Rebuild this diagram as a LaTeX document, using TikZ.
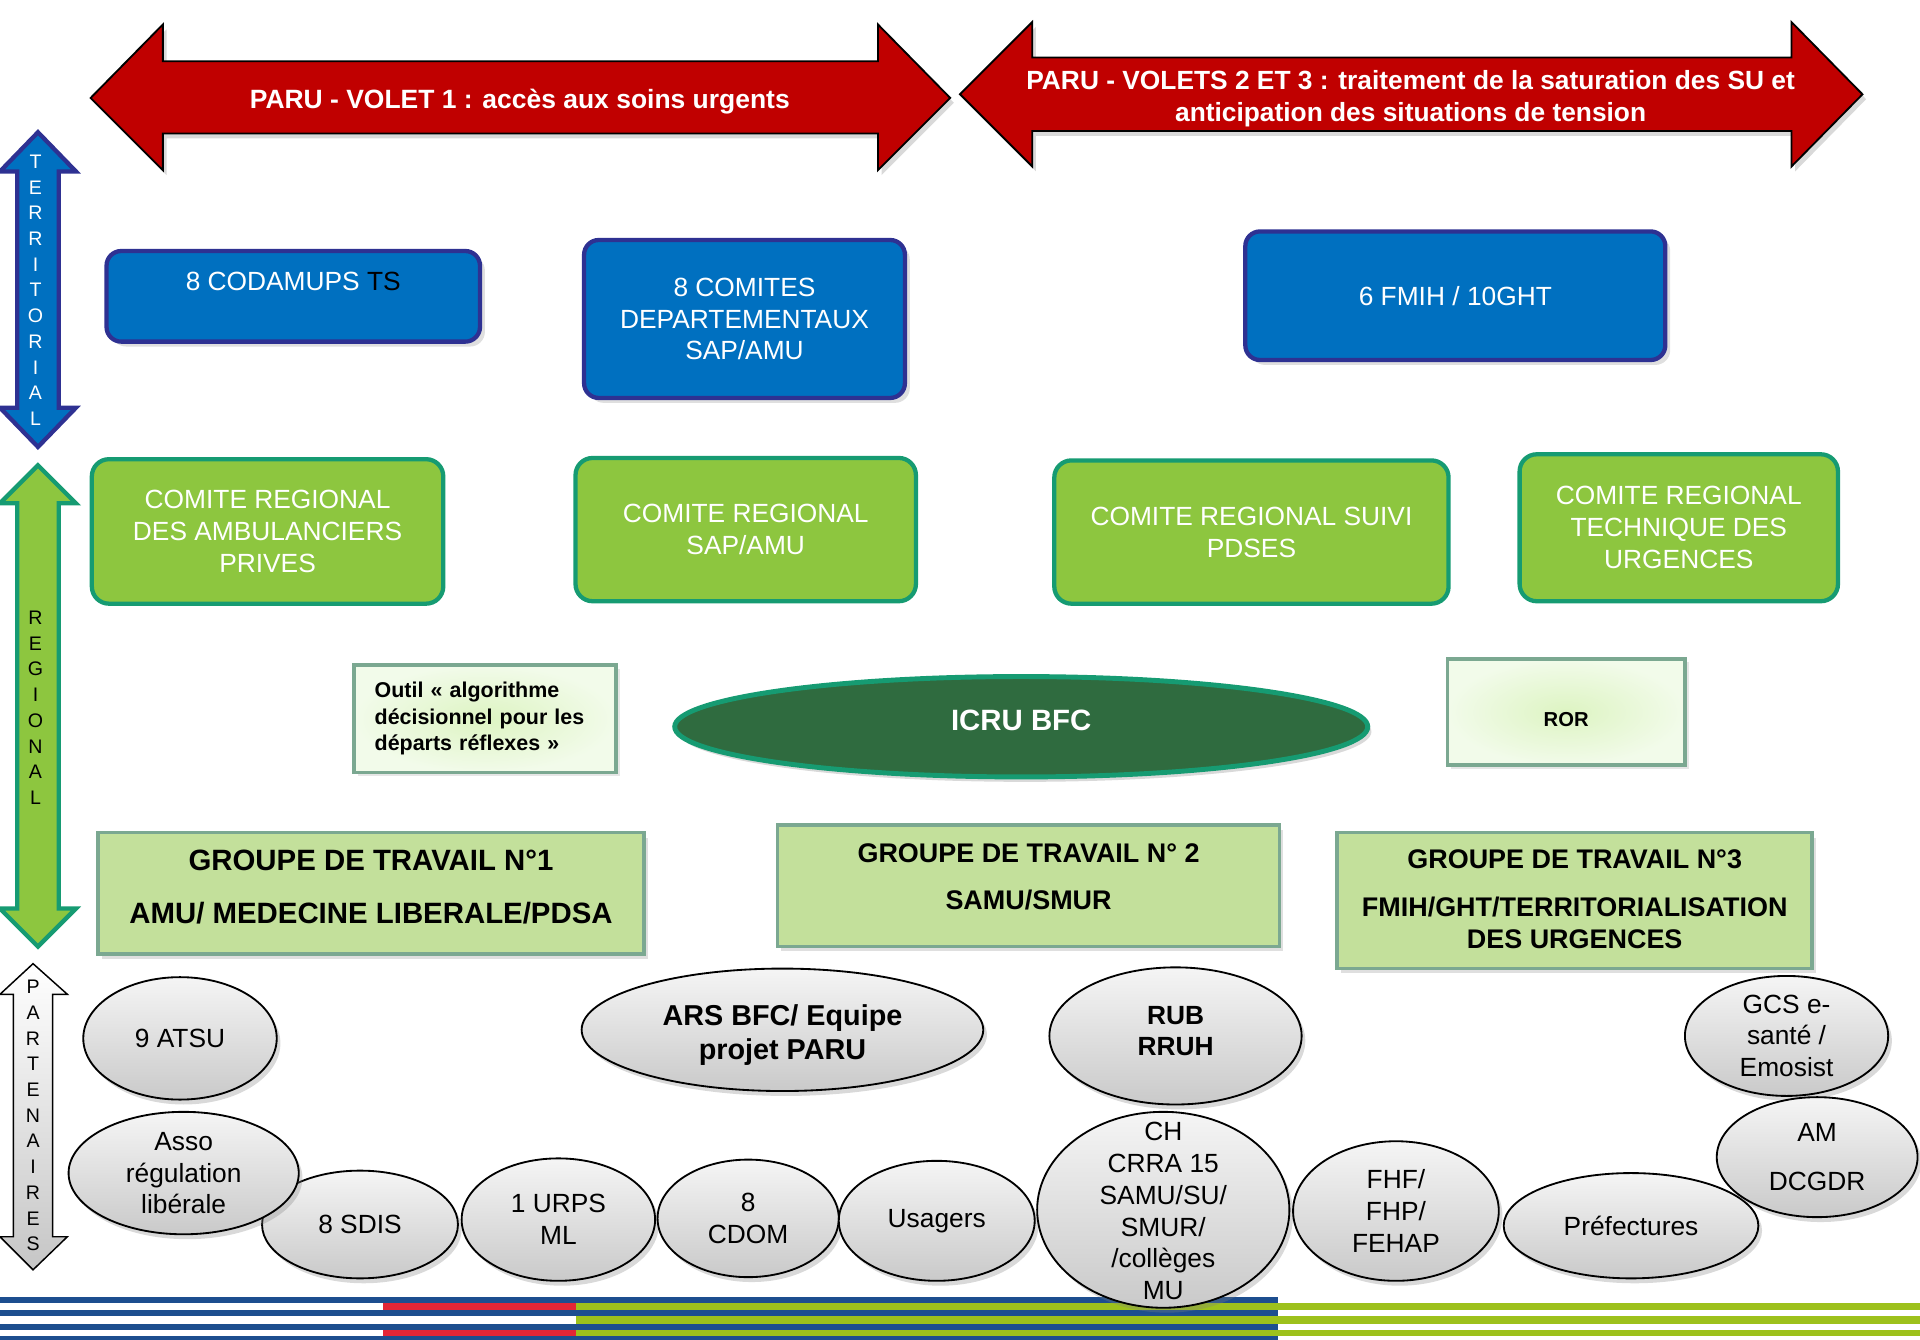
\documentclass[tikz,border=0pt]{standalone}
\usepackage{fontspec}
\setmainfont{Liberation Sans}
\usepackage{tikz}
\usetikzlibrary{shapes.geometric}
\usetikzlibrary{shadows}
\usetikzlibrary{positioning}

\definecolor{paruRed}{HTML}{C00000}
\definecolor{terrBlue}{HTML}{0070C0}
\definecolor{terrBorder}{HTML}{2E3192}
\definecolor{regGreen}{HTML}{8DC63F}
\definecolor{regBorder}{HTML}{169B72}
\definecolor{icruGreen}{HTML}{2F6B3F}
\definecolor{gtGreen}{HTML}{C3E09B}
\definecolor{gtBorder}{HTML}{7BA891}
\definecolor{toolInner}{HTML}{DDF4C2}
\definecolor{toolOuter}{HTML}{F2FBEA}
\definecolor{stripeBlue}{HTML}{1D4E8F}
\definecolor{stripeGreen}{HTML}{9DC11C}
\definecolor{stripeRed}{HTML}{E32636}

\begin{document}
\begin{tikzpicture}[x=1pt, y=-1pt]
				\tikzstyle{bluebox}=[draw=terrBorder, line width=3.5, fill=terrBlue, rounded corners=12, text=white, align=center, font=\fontsize{21.5}{26}\selectfont, drop shadow={opacity=0.25, shadow xshift=4pt, shadow yshift=-4pt}]
				\tikzstyle{greenbox}=[draw=regBorder, line width=3.5, fill=regGreen, rounded corners=14, text=white, align=center, font=\fontsize{21.5}{26}\selectfont]
				\tikzstyle{toolbox}=[draw=gtBorder, line width=3, inner color=toolInner, outer color=toolOuter, text=black, drop shadow={opacity=0.2, shadow xshift=3pt, shadow yshift=-3pt}]
				\tikzstyle{gtbox}=[draw=gtBorder, line width=3, fill=gtGreen, drop shadow={opacity=0.25, shadow xshift=3pt, shadow yshift=-4pt}]
				\tikzstyle{gttext}=[align=center, text=black, font=\bfseries\fontsize{22}{26}\selectfont]
				\tikzstyle{partner}=[ellipse, draw=black, line width=1.5, top color=gray!8, bottom color=gray!42, align=center, inner sep=0, text=black, font=\fontsize{21.5}{26}\selectfont, drop shadow={opacity=0.3, shadow xshift=3pt, shadow yshift=-4pt}]
				\tikzstyle{partnertext}=[align=center, inner sep=0, text=black, font=\fontsize{21.5}{26}\selectfont]
				\tikzstyle{bigarrow}=[draw=black, line width=1.5, fill=paruRed, drop shadow={opacity=0.3, shadow xshift=3pt, shadow yshift=-4pt}]
				\tikzstyle{sidetext}=[align=center, inner sep=0, font=\fontsize{16}{21}\selectfont]
				
				\useasboundingbox (0,0) rectangle (1568,1094);
				
				% PARU volets
				\draw [bigarrow] (74,80) -- (133,20) -- (133,50) -- (717,50) -- (717,20) -- (776,80) -- (717,139) -- (717,109) -- (133,109) -- (133,139) -- cycle;
				\draw [bigarrow] (784,77) -- (843,18) -- (843,47) -- (1463,47) -- (1463,18) -- (1521,77) -- (1463,136) -- (1463,107) -- (843,107) -- (843,136) -- cycle;
				\node (volet1) at (424.5,83) [text=white, font=\bfseries\fontsize{21.6}{26}\selectfont] {PARU - VOLET 1 : accès aux soins urgents};
				\node (volet2) at (1152,80.5) [text=white, align=center, font=\bfseries\fontsize{21.5}{26}\selectfont] {PARU - VOLETS 2 ET 3 : traitement de la saturation des SU et\\anticipation des situations de tension};
				
				% niveaux
				\draw [draw=terrBorder, line width=3.5, fill=terrBlue] (31,108) -- (62,140) -- (48,140) -- (48,333) -- (62,333) -- (31,365) -- (0,333) -- (14,333) -- (14,140) -- (0,140) -- cycle;
				\draw [draw=regBorder, line width=3.5, fill=regGreen] (31,380) -- (62,411) -- (48,411) -- (48,742) -- (62,742) -- (31,773) -- (0,742) -- (14,742) -- (14,411) -- (0,411) -- cycle;
				\draw [draw=black, line width=1.2, top color=white, bottom color=gray!45] (27,787) -- (55,812) -- (43,812) -- (43,1010) -- (55,1010) -- (27,1037) -- (0,1010) -- (11,1010) -- (11,812) -- (0,812) -- cycle;
				\node (territorial) at (29,237) [sidetext, text=white] {T\\E\\R\\R\\I\\T\\O\\R\\I\\A\\L};
				\node (regional) at (29,578) [sidetext] {R\\E\\G\\I\\O\\N\\A\\L};
				\node (partenaires) at (27,911) [sidetext] {P\\A\\R\\T\\E\\N\\A\\I\\R\\E\\S};
				
				% territorial
				\node (codamups) at (239.5,242) [bluebox, minimum width=305, minimum height=74] {};
				\node (codamupsT) at ([yshift=12pt]codamups) [text=white, font=\fontsize{21.5}{26}\selectfont] {8 CODAMUPS \textcolor{black}{TS}};
				\node (comites) at (608,260.5) [bluebox, minimum width=262, minimum height=129] {8 COMITES\\DEPARTEMENTAUX\\SAP/AMU};
				\node (fmih) at (1188.5,241.5) [bluebox, minimum width=343, minimum height=105] {6 FMIH / 10GHT};
				
				% regional
				\node (crAmbu) at (218.5,434) [greenbox, minimum width=287, minimum height=118] {COMITE REGIONAL\\DES AMBULANCIERS\\PRIVES};
				\node (crSap) at (609,432.5) [greenbox, minimum width=278, minimum height=117] {COMITE REGIONAL\\SAP/AMU};
				\node (crPdses) at (1022,434.5) [greenbox, minimum width=322, minimum height=117] {COMITE REGIONAL SUIVI\\PDSES};
				\node (crUrg) at (1371,431) [greenbox, minimum width=260, minimum height=120] {COMITE REGIONAL\\TECHNIQUE DES\\URGENCES};
				
				\node (outil) at (396,587) [toolbox, text width=180, inner xsep=17, minimum height=88, align=left, font=\bfseries\fontsize{17.5}{21.5}\selectfont] {Outil « algorithme\\décisionnel pour les\\départs réflexes »};
				\node (icru) at (834,593.5) [ellipse, draw=regBorder, line width=4, fill=icruGreen, minimum width=566, minimum height=82, drop shadow={opacity=0.3, shadow xshift=3pt, shadow yshift=-4pt}] {};
				\node (icruT) at ([yshift=5pt]icru) [text=white, font=\bfseries\fontsize{24}{28}\selectfont] {ICRU BFC};
				\node (ror) at (1279,581.5) [toolbox, minimum width=194, minimum height=87] {};
				\node (rorT) at ([yshift=-6.5pt]ror) [font=\bfseries\fontsize{16.5}{20}\selectfont] {ROR};
				
				\node (gt1) at (303,729.5) [gtbox, minimum width=446, minimum height=99] {};
				\node (gt1T) at ([yshift=5pt]gt1) [gttext, font=\bfseries\fontsize{24}{28}\selectfont] {GROUPE DE TRAVAIL N°1\\[15pt]AMU/ MEDECINE LIBERALE/PDSA};
				\node (gt2) at (840,723.5) [gtbox, minimum width=410, minimum height=99] {};
				\node (gt2T) at ([yshift=7.5pt]gt2) [gttext] {GROUPE DE TRAVAIL N° 2\\[13pt]SAMU/SMUR};
				\node (gt3) at (1286,735.5) [gtbox, minimum width=388, minimum height=111] {};
				\node (gt3T) at ([yshift=1pt]gt3) [gttext] {GROUPE DE TRAVAIL N°3\\[13pt]FMIH/GHT/TERRITORIALISATION\\DES URGENCES};
				
				% bandeau
				\fill [stripeBlue] (0,1059) rectangle (1044,1094);
				\foreach \ya/\yb in {1064/1070, 1075/1081, 1086/1091} {
					\fill [white] (0,\ya) rectangle (470,\yb);
					\fill [stripeGreen] (470,\ya) rectangle (1568,\yb);
				}
				\fill [stripeRed] (313,1064) rectangle (470,1070);
				\fill [stripeRed] (313,1086) rectangle (470,1091);
				
				% partenaires
				\node (atsu) at (147,848) [partner, minimum width=158, minimum height=100] {9 ATSU};
				\node (ars) at (639,841) [partner, minimum width=328, minimum height=100] {};
				\node (arsT) at ([yshift=-4pt]ars) [partnertext, font=\bfseries\fontsize{23.5}{28}\selectfont] {ARS BFC/ Equipe\\projet PARU};
				\node (rub) at (960,846) [partner, minimum width=206, minimum height=112] {};
				\node (rubT) at ([yshift=4pt]rub) [partnertext, font=\bfseries\fontsize{21.5}{26}\selectfont] {RUB\\RRUH};
				\node (gcs) at (1459,846) [partner, minimum width=166, minimum height=98] {GCS e-\\santé /\\Emosist};
				\node (sdis) at (294,1000) [partner, minimum width=160, minimum height=88] {8 SDIS};
				\node (asso) at (150,958) [partner, minimum width=188, minimum height=100] {Asso\\régulation\\libérale};
				\node (urps) at (456,996) [partner, minimum width=158, minimum height=100] {1 URPS\\ML};
				\node (cdom) at (611,995) [partner, minimum width=148, minimum height=96] {8\\CDOM};
				\node (usagers) at (765,997) [partner, minimum width=160, minimum height=98] {Usagers};
				\node (ch) at (950,988) [partner, minimum width=206, minimum height=160] {};
				\node (chT) at ([yshift=-1pt]ch) [partnertext] {CH\\CRRA 15\\SAMU/SU/\\SMUR/\\/collèges\\MU};
				\node (fhf) at (1140,989) [partner, minimum width=168, minimum height=114] {FHF/\\FHP/\\FEHAP};
				\node (prefect) at (1332,1001) [partner, minimum width=208, minimum height=86] {Préfectures};
				\node (am) at (1484,945) [partner, minimum width=164, minimum height=98] {AM\\[14pt]DCGDR};
				
\end{tikzpicture}
\end{document}
